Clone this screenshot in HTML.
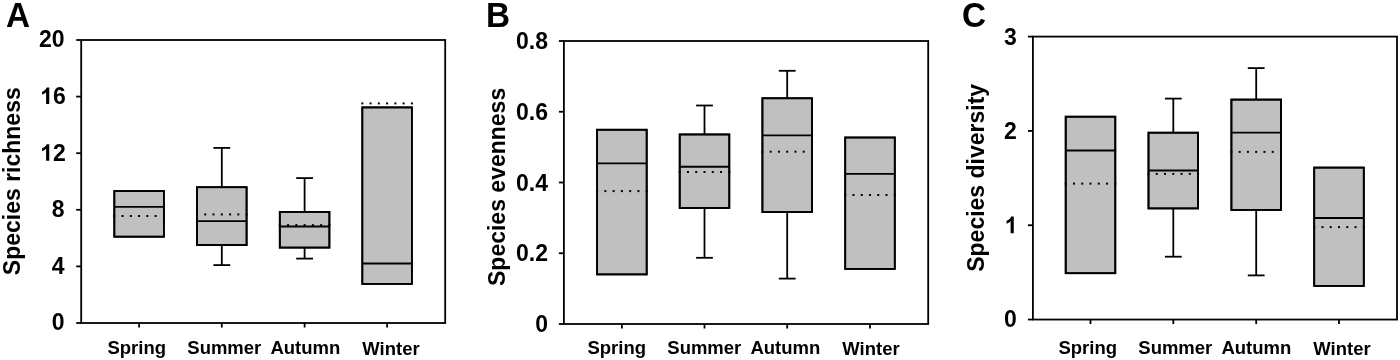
<!DOCTYPE html>
<html><head><meta charset="utf-8"><title>Box plots</title>
<style>html,body{margin:0;padding:0;background:#fff;width:1400px;height:360px;overflow:hidden;font-family:"Liberation Sans", sans-serif;}svg{display:block;will-change:transform;}</style>
</head><body>
<svg width="1400" height="360" viewBox="0 0 1400 360">
<rect width="1400" height="360" fill="#fff"/>
<g stroke="#000" stroke-width="1.8" fill="none" stroke-linecap="butt">
<rect x="114.3" y="191.05" width="49.6" height="45.65" fill="#c0c0c0"/>
<rect x="113.3" y="215" width="2" height="2" stroke="none" fill="#000"/>
<rect x="121.57" y="215" width="2" height="2" stroke="none" fill="#000"/>
<rect x="129.83" y="215" width="2" height="2" stroke="none" fill="#000"/>
<rect x="138.1" y="215" width="2" height="2" stroke="none" fill="#000"/>
<rect x="146.37" y="215" width="2" height="2" stroke="none" fill="#000"/>
<rect x="154.63" y="215" width="2" height="2" stroke="none" fill="#000"/>
<rect x="162.9" y="215" width="2" height="2" stroke="none" fill="#000"/>
<line x1="114.3" y1="206.9" x2="163.9" y2="206.9"/>
<line x1="221.8" y1="147.9" x2="221.8" y2="187.2"/>
<line x1="213.4" y1="147.9" x2="230.2" y2="147.9"/>
<line x1="221.8" y1="245.1" x2="221.8" y2="265.1"/>
<line x1="213.4" y1="265.1" x2="230.2" y2="265.1"/>
<rect x="197" y="187.2" width="49.6" height="57.9" fill="#c0c0c0"/>
<rect x="196" y="213.4" width="2" height="2" stroke="none" fill="#000"/>
<rect x="204.27" y="213.4" width="2" height="2" stroke="none" fill="#000"/>
<rect x="212.53" y="213.4" width="2" height="2" stroke="none" fill="#000"/>
<rect x="220.8" y="213.4" width="2" height="2" stroke="none" fill="#000"/>
<rect x="229.07" y="213.4" width="2" height="2" stroke="none" fill="#000"/>
<rect x="237.33" y="213.4" width="2" height="2" stroke="none" fill="#000"/>
<rect x="245.6" y="213.4" width="2" height="2" stroke="none" fill="#000"/>
<line x1="197" y1="221.1" x2="246.6" y2="221.1"/>
<line x1="304.6" y1="178.1" x2="304.6" y2="211.9"/>
<line x1="296.2" y1="178.1" x2="313" y2="178.1"/>
<line x1="304.6" y1="247.6" x2="304.6" y2="258.6"/>
<line x1="296.2" y1="258.6" x2="313" y2="258.6"/>
<rect x="279.8" y="211.9" width="49.6" height="35.7" fill="#c0c0c0"/>
<rect x="278.8" y="224.1" width="2" height="2" stroke="none" fill="#000"/>
<rect x="287.07" y="224.1" width="2" height="2" stroke="none" fill="#000"/>
<rect x="295.33" y="224.1" width="2" height="2" stroke="none" fill="#000"/>
<rect x="303.6" y="224.1" width="2" height="2" stroke="none" fill="#000"/>
<rect x="311.87" y="224.1" width="2" height="2" stroke="none" fill="#000"/>
<rect x="320.13" y="224.1" width="2" height="2" stroke="none" fill="#000"/>
<rect x="328.4" y="224.1" width="2" height="2" stroke="none" fill="#000"/>
<line x1="279.8" y1="226.5" x2="329.4" y2="226.5"/>
<rect x="362.3" y="107.4" width="49.6" height="176.5" fill="#c0c0c0"/>
<rect x="361.3" y="102.4" width="2" height="2" stroke="none" fill="#000"/>
<rect x="369.57" y="102.4" width="2" height="2" stroke="none" fill="#000"/>
<rect x="377.83" y="102.4" width="2" height="2" stroke="none" fill="#000"/>
<rect x="386.1" y="102.4" width="2" height="2" stroke="none" fill="#000"/>
<rect x="394.37" y="102.4" width="2" height="2" stroke="none" fill="#000"/>
<rect x="402.63" y="102.4" width="2" height="2" stroke="none" fill="#000"/>
<rect x="410.9" y="102.4" width="2" height="2" stroke="none" fill="#000"/>
<line x1="362.3" y1="263.5" x2="411.9" y2="263.5"/>
<rect x="81.2" y="40" width="364" height="283" fill="none"/>
<rect x="114.3" y="191.05" width="49.6" height="45.65" fill="none"/>
<line x1="139.1" y1="323" x2="139.1" y2="327.5"/>
<rect x="197" y="187.2" width="49.6" height="57.9" fill="none"/>
<line x1="221.8" y1="323" x2="221.8" y2="327.5"/>
<rect x="279.8" y="211.9" width="49.6" height="35.7" fill="none"/>
<line x1="304.6" y1="323" x2="304.6" y2="327.5"/>
<rect x="362.3" y="107.4" width="49.6" height="176.5" fill="none"/>
<line x1="387.1" y1="323" x2="387.1" y2="327.5"/>
<line x1="76.2" y1="323" x2="81.2" y2="323"/>
<line x1="76.2" y1="266.4" x2="81.2" y2="266.4"/>
<line x1="76.2" y1="209.8" x2="81.2" y2="209.8"/>
<line x1="76.2" y1="153.2" x2="81.2" y2="153.2"/>
<line x1="76.2" y1="96.6" x2="81.2" y2="96.6"/>
<line x1="76.2" y1="40" x2="81.2" y2="40"/>
</g>
<g font-family='"Liberation Sans", sans-serif' font-weight="bold" fill="#000">
<text transform="translate(6 26.8) scale(1 1.07)" font-size="33.3">A</text>
<text x="64.6" y="330.47" font-size="23" text-anchor="end">0</text>
<text x="64.6" y="273.87" font-size="23" text-anchor="end">4</text>
<text x="64.6" y="217.27" font-size="23" text-anchor="end">8</text>
<path transform="translate(40.1 160.67) scale(0.01123 -0.01123)" d="M816 0H535V1059Q381 915 172 846V1101Q282 1137 411 1237Q540 1338 588 1472H816Z"/>
<text x="52.89" y="160.67" font-size="23">2</text>
<path transform="translate(40.1 104.07) scale(0.01123 -0.01123)" d="M816 0H535V1059Q381 915 172 846V1101Q282 1137 411 1237Q540 1338 588 1472H816Z"/>
<text x="52.89" y="104.07" font-size="23">6</text>
<text x="64.6" y="47.47" font-size="23" text-anchor="end">20</text>
<text transform="translate(19.9 275.2) rotate(-90)" font-size="23">Species richness</text>
<text transform="translate(107.5 353.9) scale(1 1.04)" font-size="18.5">Spring</text>
<text transform="translate(187.3 353.9) scale(1 1.04)" font-size="18.5">Summer</text>
<text transform="translate(270.4 354.3) scale(1 1.04)" font-size="18.5">Autumn</text>
<text transform="translate(362.3 354.5) scale(1 1.04)" font-size="18.5">Winter</text>
</g>
<g stroke="#000" stroke-width="1.8" fill="none" stroke-linecap="butt">
<rect x="597.1" y="129.75" width="49.6" height="144.65" fill="#c0c0c0"/>
<rect x="596.1" y="190.1" width="2" height="2" stroke="none" fill="#000"/>
<rect x="604.37" y="190.1" width="2" height="2" stroke="none" fill="#000"/>
<rect x="612.63" y="190.1" width="2" height="2" stroke="none" fill="#000"/>
<rect x="620.9" y="190.1" width="2" height="2" stroke="none" fill="#000"/>
<rect x="629.17" y="190.1" width="2" height="2" stroke="none" fill="#000"/>
<rect x="637.43" y="190.1" width="2" height="2" stroke="none" fill="#000"/>
<rect x="645.7" y="190.1" width="2" height="2" stroke="none" fill="#000"/>
<line x1="597.1" y1="163.4" x2="646.7" y2="163.4"/>
<line x1="704.5" y1="105.5" x2="704.5" y2="134.45"/>
<line x1="696.1" y1="105.5" x2="712.9" y2="105.5"/>
<line x1="704.5" y1="208" x2="704.5" y2="257.8"/>
<line x1="696.1" y1="257.8" x2="712.9" y2="257.8"/>
<rect x="679.7" y="134.45" width="49.6" height="73.55" fill="#c0c0c0"/>
<rect x="678.7" y="171" width="2" height="2" stroke="none" fill="#000"/>
<rect x="686.97" y="171" width="2" height="2" stroke="none" fill="#000"/>
<rect x="695.23" y="171" width="2" height="2" stroke="none" fill="#000"/>
<rect x="703.5" y="171" width="2" height="2" stroke="none" fill="#000"/>
<rect x="711.77" y="171" width="2" height="2" stroke="none" fill="#000"/>
<rect x="720.03" y="171" width="2" height="2" stroke="none" fill="#000"/>
<rect x="728.3" y="171" width="2" height="2" stroke="none" fill="#000"/>
<line x1="679.7" y1="166.75" x2="729.3" y2="166.75"/>
<line x1="787.2" y1="70.8" x2="787.2" y2="98.25"/>
<line x1="778.8" y1="70.8" x2="795.6" y2="70.8"/>
<line x1="787.2" y1="212.1" x2="787.2" y2="278.6"/>
<line x1="778.8" y1="278.6" x2="795.6" y2="278.6"/>
<rect x="762.4" y="98.25" width="49.6" height="113.85" fill="#c0c0c0"/>
<rect x="761.4" y="150.7" width="2" height="2" stroke="none" fill="#000"/>
<rect x="769.67" y="150.7" width="2" height="2" stroke="none" fill="#000"/>
<rect x="777.93" y="150.7" width="2" height="2" stroke="none" fill="#000"/>
<rect x="786.2" y="150.7" width="2" height="2" stroke="none" fill="#000"/>
<rect x="794.47" y="150.7" width="2" height="2" stroke="none" fill="#000"/>
<rect x="802.73" y="150.7" width="2" height="2" stroke="none" fill="#000"/>
<rect x="811" y="150.7" width="2" height="2" stroke="none" fill="#000"/>
<line x1="762.4" y1="135.3" x2="812" y2="135.3"/>
<rect x="845.2" y="137.5" width="49.6" height="131.4" fill="#c0c0c0"/>
<rect x="844.2" y="194" width="2" height="2" stroke="none" fill="#000"/>
<rect x="852.47" y="194" width="2" height="2" stroke="none" fill="#000"/>
<rect x="860.73" y="194" width="2" height="2" stroke="none" fill="#000"/>
<rect x="869" y="194" width="2" height="2" stroke="none" fill="#000"/>
<rect x="877.27" y="194" width="2" height="2" stroke="none" fill="#000"/>
<rect x="885.53" y="194" width="2" height="2" stroke="none" fill="#000"/>
<rect x="893.8" y="194" width="2" height="2" stroke="none" fill="#000"/>
<line x1="845.2" y1="173.9" x2="894.8" y2="173.9"/>
<rect x="563.9" y="41" width="364.3" height="283" fill="none"/>
<rect x="597.1" y="129.75" width="49.6" height="144.65" fill="none"/>
<line x1="621.9" y1="324" x2="621.9" y2="328.5"/>
<rect x="679.7" y="134.45" width="49.6" height="73.55" fill="none"/>
<line x1="704.5" y1="324" x2="704.5" y2="328.5"/>
<rect x="762.4" y="98.25" width="49.6" height="113.85" fill="none"/>
<line x1="787.2" y1="324" x2="787.2" y2="328.5"/>
<rect x="845.2" y="137.5" width="49.6" height="131.4" fill="none"/>
<line x1="870" y1="324" x2="870" y2="328.5"/>
<line x1="558.9" y1="324" x2="563.9" y2="324"/>
<line x1="558.9" y1="253.25" x2="563.9" y2="253.25"/>
<line x1="558.9" y1="182.5" x2="563.9" y2="182.5"/>
<line x1="558.9" y1="111.75" x2="563.9" y2="111.75"/>
<line x1="558.9" y1="41" x2="563.9" y2="41"/>
</g>
<g font-family='"Liberation Sans", sans-serif' font-weight="bold" fill="#000">
<text transform="translate(486 26.8) scale(1 1.07)" font-size="33.3">B</text>
<text x="548" y="332.12" font-size="23" text-anchor="end">0</text>
<text x="548" y="261.37" font-size="23" text-anchor="end">0.2</text>
<text x="548" y="190.62" font-size="23" text-anchor="end">0.4</text>
<text x="548" y="119.87" font-size="23" text-anchor="end">0.6</text>
<text x="548" y="49.12" font-size="23" text-anchor="end">0.8</text>
<text transform="translate(504.6 286) rotate(-90)" font-size="23">Species evenness</text>
<text transform="translate(587.5 353.9) scale(1 1.04)" font-size="18.5">Spring</text>
<text transform="translate(667.3 353.9) scale(1 1.04)" font-size="18.5">Summer</text>
<text transform="translate(750.4 354.3) scale(1 1.04)" font-size="18.5">Autumn</text>
<text transform="translate(842.3 354.5) scale(1 1.04)" font-size="18.5">Winter</text>
</g>
<g stroke="#000" stroke-width="1.8" fill="none" stroke-linecap="butt">
<rect x="1065.7" y="116.7" width="49.6" height="156.5" fill="#c0c0c0"/>
<rect x="1064.7" y="182.6" width="2" height="2" stroke="none" fill="#000"/>
<rect x="1072.97" y="182.6" width="2" height="2" stroke="none" fill="#000"/>
<rect x="1081.23" y="182.6" width="2" height="2" stroke="none" fill="#000"/>
<rect x="1089.5" y="182.6" width="2" height="2" stroke="none" fill="#000"/>
<rect x="1097.77" y="182.6" width="2" height="2" stroke="none" fill="#000"/>
<rect x="1106.03" y="182.6" width="2" height="2" stroke="none" fill="#000"/>
<rect x="1114.3" y="182.6" width="2" height="2" stroke="none" fill="#000"/>
<line x1="1065.7" y1="150.5" x2="1115.3" y2="150.5"/>
<line x1="1173.3" y1="98.6" x2="1173.3" y2="132.7"/>
<line x1="1164.9" y1="98.6" x2="1181.7" y2="98.6"/>
<line x1="1173.3" y1="208.4" x2="1173.3" y2="256.7"/>
<line x1="1164.9" y1="256.7" x2="1181.7" y2="256.7"/>
<rect x="1148.5" y="132.7" width="49.6" height="75.7" fill="#c0c0c0"/>
<rect x="1147.5" y="172.9" width="2" height="2" stroke="none" fill="#000"/>
<rect x="1155.77" y="172.9" width="2" height="2" stroke="none" fill="#000"/>
<rect x="1164.03" y="172.9" width="2" height="2" stroke="none" fill="#000"/>
<rect x="1172.3" y="172.9" width="2" height="2" stroke="none" fill="#000"/>
<rect x="1180.57" y="172.9" width="2" height="2" stroke="none" fill="#000"/>
<rect x="1188.83" y="172.9" width="2" height="2" stroke="none" fill="#000"/>
<rect x="1197.1" y="172.9" width="2" height="2" stroke="none" fill="#000"/>
<line x1="1148.5" y1="170.5" x2="1198.1" y2="170.5"/>
<line x1="1256.2" y1="68.1" x2="1256.2" y2="99.6"/>
<line x1="1247.8" y1="68.1" x2="1264.6" y2="68.1"/>
<line x1="1256.2" y1="209.9" x2="1256.2" y2="275.4"/>
<line x1="1247.8" y1="275.4" x2="1264.6" y2="275.4"/>
<rect x="1231.4" y="99.6" width="49.6" height="110.3" fill="#c0c0c0"/>
<rect x="1230.4" y="150.9" width="2" height="2" stroke="none" fill="#000"/>
<rect x="1238.67" y="150.9" width="2" height="2" stroke="none" fill="#000"/>
<rect x="1246.93" y="150.9" width="2" height="2" stroke="none" fill="#000"/>
<rect x="1255.2" y="150.9" width="2" height="2" stroke="none" fill="#000"/>
<rect x="1263.47" y="150.9" width="2" height="2" stroke="none" fill="#000"/>
<rect x="1271.73" y="150.9" width="2" height="2" stroke="none" fill="#000"/>
<rect x="1280" y="150.9" width="2" height="2" stroke="none" fill="#000"/>
<line x1="1231.4" y1="132.6" x2="1281" y2="132.6"/>
<rect x="1314.2" y="167.6" width="49.6" height="118.3" fill="#c0c0c0"/>
<rect x="1313.2" y="226.1" width="2" height="2" stroke="none" fill="#000"/>
<rect x="1321.47" y="226.1" width="2" height="2" stroke="none" fill="#000"/>
<rect x="1329.73" y="226.1" width="2" height="2" stroke="none" fill="#000"/>
<rect x="1338" y="226.1" width="2" height="2" stroke="none" fill="#000"/>
<rect x="1346.27" y="226.1" width="2" height="2" stroke="none" fill="#000"/>
<rect x="1354.53" y="226.1" width="2" height="2" stroke="none" fill="#000"/>
<rect x="1362.8" y="226.1" width="2" height="2" stroke="none" fill="#000"/>
<line x1="1314.2" y1="218" x2="1363.8" y2="218"/>
<rect x="1032.9" y="36.6" width="364.1" height="282.95" fill="none"/>
<rect x="1065.7" y="116.7" width="49.6" height="156.5" fill="none"/>
<line x1="1090.5" y1="319.55" x2="1090.5" y2="324.05"/>
<rect x="1148.5" y="132.7" width="49.6" height="75.7" fill="none"/>
<line x1="1173.3" y1="319.55" x2="1173.3" y2="324.05"/>
<rect x="1231.4" y="99.6" width="49.6" height="110.3" fill="none"/>
<line x1="1256.2" y1="319.55" x2="1256.2" y2="324.05"/>
<rect x="1314.2" y="167.6" width="49.6" height="118.3" fill="none"/>
<line x1="1339" y1="319.55" x2="1339" y2="324.05"/>
<line x1="1027.9" y1="319.55" x2="1032.9" y2="319.55"/>
<line x1="1027.9" y1="225.23" x2="1032.9" y2="225.23"/>
<line x1="1027.9" y1="130.92" x2="1032.9" y2="130.92"/>
<line x1="1027.9" y1="36.6" x2="1032.9" y2="36.6"/>
</g>
<g font-family='"Liberation Sans", sans-serif' font-weight="bold" fill="#000">
<text transform="translate(962 26.8) scale(1 1.07)" font-size="33.3">C</text>
<text x="1016.7" y="327.47" font-size="23" text-anchor="end">0</text>
<path transform="translate(1004.6 233.15) scale(0.01123 -0.01123)" d="M816 0H535V1059Q381 915 172 846V1101Q282 1137 411 1237Q540 1338 588 1472H816Z"/>
<text x="1016.7" y="138.84" font-size="23" text-anchor="end">2</text>
<text x="1016.7" y="44.52" font-size="23" text-anchor="end">3</text>
<text transform="translate(983.9 271.8) rotate(-90)" font-size="23">Species diversity</text>
<text transform="translate(1058.5 353.9) scale(1 1.04)" font-size="18.5">Spring</text>
<text transform="translate(1138.3 353.9) scale(1 1.04)" font-size="18.5">Summer</text>
<text transform="translate(1221.4 354.3) scale(1 1.04)" font-size="18.5">Autumn</text>
<text transform="translate(1313.3 354.5) scale(1 1.04)" font-size="18.5">Winter</text>
</g>
</svg>
</body></html>
